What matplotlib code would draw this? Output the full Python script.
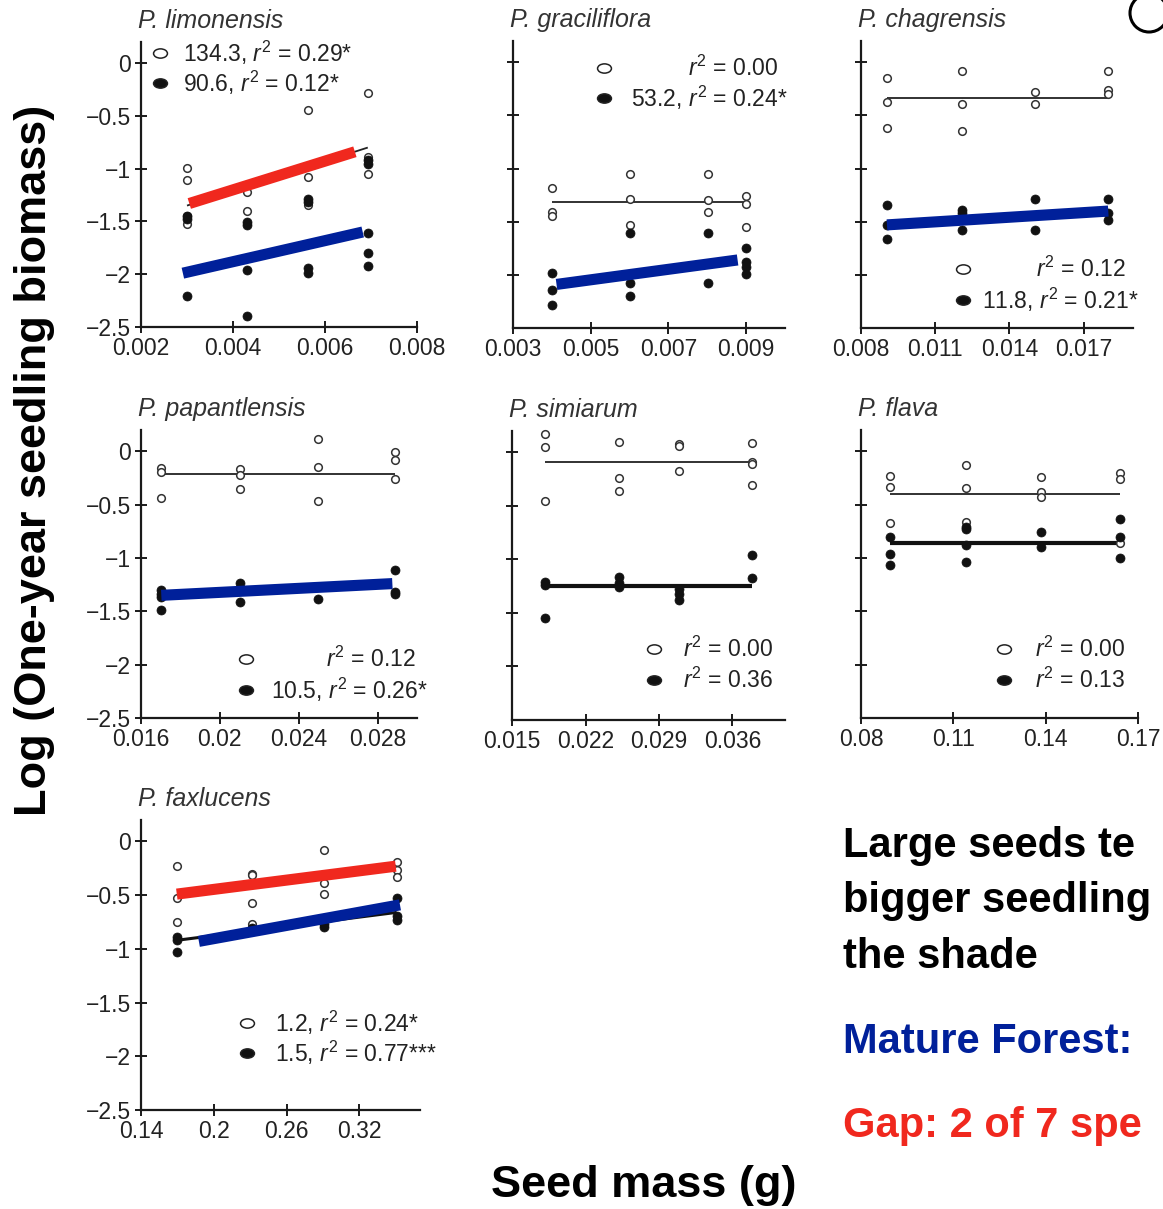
import matplotlib
matplotlib.use('Agg')
import matplotlib.pyplot as plt
from matplotlib.path import Path
from matplotlib.transforms import Affine2D
from matplotlib.patches import Circle

plt.rcParams['font.family'] = ['Liberation Sans', 'DejaVu Sans']
plt.rcParams['mathtext.fontset'] = 'custom'
plt.rcParams['mathtext.rm'] = 'Liberation Sans'
plt.rcParams['mathtext.it'] = 'Liberation Sans:italic'

W, H = 1163, 1209
RED = '#f0281e'
BLUE = '#00209a'

# ---------------- data ----------------
# P. limonensis
lim_gap_x = [0.003, 0.003, 0.003, 0.003, 0.0043, 0.0043, 0.00563, 0.00563, 0.00563, 0.00693, 0.00693, 0.00693]
lim_gap_y = [-0.99, -1.11, -1.45, -1.52, -1.22, -1.40, -0.44, -1.08, -1.34, -0.28, -0.89, -1.05]
lim_mat_x = [0.003, 0.003, 0.003, 0.0043, 0.0043, 0.0043, 0.0043, 0.00563, 0.00563, 0.00563, 0.00563,
             0.00693, 0.00693, 0.00693, 0.00693, 0.00693]
lim_mat_y = [-1.45, -1.48, -2.21, -1.51, -1.53, -1.96, -2.40, -1.29, -1.32, -1.94, -1.99,
             -0.92, -0.96, -1.61, -1.80, -1.92]
lim_gap_fit = ([0.003, 0.00693], [-1.35, -0.80])
lim_red = ([0.00305, 0.00665], [-1.33, -0.84])
lim_blue = ([0.00291, 0.00682], [-1.99, -1.60])

# P. graciliflora
gra_gap_x = [0.004, 0.004, 0.004, 0.00602, 0.00602, 0.00602, 0.00802, 0.00802, 0.00802, 0.009, 0.009, 0.009]
gra_gap_y = [-1.18, -1.41, -1.45, -1.05, -1.29, -1.53, -1.05, -1.30, -1.41, -1.26, -1.33, -1.55]
gra_mat_x = [0.004, 0.004, 0.004, 0.00602, 0.00602, 0.00602, 0.00802, 0.00802, 0.009, 0.009, 0.009, 0.009]
gra_mat_y = [-1.98, -2.14, -2.28, -1.61, -2.08, -2.20, -1.61, -2.08, -1.75, -1.88, -1.93, -1.99]
gra_gap_fit = ([0.004, 0.009], [-1.31, -1.31])
gra_blue = ([0.00412, 0.00878], [-2.09, -1.86])

# P. chagrensis
cha_gap_x = [0.00905, 0.00905, 0.00905, 0.01208, 0.01208, 0.01208, 0.01504, 0.01504, 0.018, 0.018, 0.018]
cha_gap_y = [-0.15, -0.37, -0.62, -0.08, -0.39, -0.65, -0.28, -0.39, -0.08, -0.26, -0.30]
cha_mat_x = [0.00905, 0.00905, 0.00905, 0.01208, 0.01208, 0.01208, 0.01504, 0.01504, 0.018, 0.018, 0.018]
cha_mat_y = [-1.34, -1.53, -1.66, -1.39, -1.42, -1.58, -1.29, -1.58, -1.29, -1.42, -1.48]
cha_gap_fit = ([0.00905, 0.018], [-0.34, -0.34])
cha_blue = ([0.00905, 0.018], [-1.53, -1.40])

# P. papantlensis
pap_gap_x = [0.01703, 0.01703, 0.01703, 0.02101, 0.02101, 0.02101, 0.025, 0.025, 0.025, 0.02887, 0.02887, 0.02887]
pap_gap_y = [-0.16, -0.19, -0.44, -0.17, -0.22, -0.35, 0.12, -0.15, -0.47, -0.01, -0.08, -0.26]
pap_mat_x = [0.01703, 0.01703, 0.01703, 0.01703, 0.02101, 0.02101, 0.02101, 0.025, 0.02887, 0.02887, 0.02887]
pap_mat_y = [-1.30, -1.34, -1.37, -1.49, -1.23, -1.28, -1.41, -1.38, -1.11, -1.32, -1.34]
pap_gap_fit = ([0.01703, 0.02887], [-0.21, -0.21])
pap_blue = ([0.01703, 0.02875], [-1.35, -1.24])

# P. simiarum
sim_gap_x = [0.0181, 0.0181, 0.0181, 0.02523, 0.02523, 0.02523, 0.03087, 0.03087, 0.03087, 0.0379, 0.0379, 0.0379, 0.0379]
sim_gap_y = [0.17, 0.05, -0.45, 0.10, -0.24, -0.36, 0.08, 0.06, -0.17, 0.09, -0.09, -0.11, -0.30]
sim_mat_x = [0.0181, 0.0181, 0.0181, 0.02523, 0.02523, 0.02523, 0.03087, 0.03087, 0.03087, 0.0379, 0.0379]
sim_mat_y = [-1.21, -1.24, -1.55, -1.16, -1.22, -1.26, -1.28, -1.32, -1.38, -0.96, -1.17]
sim_gap_fit = ([0.0181, 0.0379], [-0.09, -0.09])
sim_mat_fit = ([0.0181, 0.0379], [-1.25, -1.25])

# P. flava
fla_gap_x = [0.0895, 0.0895, 0.0895, 0.114, 0.114, 0.114, 0.1386, 0.1386, 0.1386, 0.164, 0.164, 0.164]
fla_gap_y = [-0.23, -0.33, -0.67, -0.13, -0.34, -0.66, -0.24, -0.38, -0.43, -0.20, -0.26, -0.86]
fla_mat_x = [0.0895, 0.0895, 0.0895, 0.114, 0.114, 0.114, 0.114, 0.1386, 0.1386, 0.164, 0.164, 0.164]
fla_mat_y = [-0.80, -0.96, -1.07, -0.71, -0.73, -0.88, -1.04, -0.76, -0.90, -0.63, -0.80, -1.00]
fla_gap_fit = ([0.0895, 0.164], [-0.40, -0.40])
fla_mat_fit = ([0.0895, 0.164], [-0.86, -0.86])

# P. faxlucens
fax_gap_x = [0.1695, 0.1695, 0.1695, 0.2314, 0.2314, 0.2314, 0.2314, 0.2908, 0.2908, 0.2908, 0.3508, 0.3508, 0.3508]
fax_gap_y = [-0.23, -0.53, -0.75, -0.30, -0.31, -0.57, -0.77, -0.08, -0.39, -0.49, -0.19, -0.27, -0.33]
fax_mat_x = [0.1695, 0.1695, 0.1695, 0.2314, 0.2908, 0.2908, 0.3508, 0.3508, 0.3508]
fax_mat_y = [-0.89, -0.92, -1.03, -0.81, -0.77, -0.80, -0.53, -0.69, -0.73]
fax_mat_fit = ([0.1695, 0.3508], [-0.92, -0.66])
fax_red = ([0.1695, 0.35], [-0.49, -0.23])
fax_blue = ([0.1877, 0.3535], [-0.93, -0.59])

y_ticks = [0, -0.5, -1, -1.5, -2, -2.5]
y_ticklabels = ['0', '\u22120.5', '\u22121', '\u22121.5', '\u22122', '\u22122.5']

# visible part of the slide text (cut by the slide edge)
side_lines = ['Large seeds te', 'bigger seedling', 'the shade']
mature_line = 'Mature Forest:'
gap_line = 'Gap: 2 of 7 spe'

# ---------------- layout helpers ----------------
fig = plt.figure(figsize=(W / 100, H / 100), dpi=100)


def fx(x):
    return x / W


def fy(y):
    return 1 - y / H


ell = Path.unit_circle().transformed(Affine2D().scale(1.5, 1.0))


def panel(box, title, xlim, xticks, xlabels, ylabels):
    left, bottom, right, top = box
    ax = fig.add_axes([fx(left), fy(bottom), (right - left) / W, (bottom - top) / H])
    ax.set_xlim(*xlim)
    ax.set_ylim(-2.5, 0.2)
    for s in ['top', 'right']:
        ax.spines[s].set_visible(False)
    for s in ['left', 'bottom']:
        ax.spines[s].set_linewidth(1.6)
        ax.spines[s].set_color('#1a1a1a')
    ax.set_xticks(xticks)
    ax.set_xticklabels(xlabels)
    if ylabels:
        ax.set_yticks(y_ticks)
        ax.set_yticklabels(y_ticklabels)
    else:
        ax.set_yticks(y_ticks[:-1])
        ax.set_yticklabels([])
    ax.tick_params(direction='inout', length=8, width=1.4, labelsize=16.5,
                   color='#1a1a1a', labelcolor='#222222', pad=3)
    ax.patch.set_alpha(0)
    fig.text(fx(left - 3), fy(top - 21), title, style='italic', fontsize=18,
             color='#333333', va='center', ha='left')
    return ax


def points(ax, gx, gy, mx, my):
    ax.plot(gx, gy, 'o', ms=5.5, mfc='white', mec='#333333', mew=1.1, zorder=3, clip_on=False)
    ax.plot(mx, my, 'o', ms=6.5, mfc='#111111', mec='#111111', mew=0.5, zorder=3, clip_on=False)


def fit(ax, line, color='#222222', lw=1.3, z=2):
    ax.plot(line[0], line[1], color=color, lw=lw, solid_capstyle='butt', zorder=z)


def legend(ax, box, entries):
    left, bottom, right, top = box
    for (mx, my, tx, ha, label, filled) in entries:
        ax.plot((mx - left) / (right - left), (bottom - my) / (bottom - top), marker=ell,
                ms=10, mfc='#111111' if filled else 'white', mec='#222222', mew=1.1,
                transform=ax.transAxes, clip_on=False)
        ax.text((tx - left) / (right - left), (bottom - my) / (bottom - top), label,
                transform=ax.transAxes, fontsize=16.5, color='#222222', ha=ha, va='center')


# ---------------- panels ----------------
b1 = (141, 327, 417, 42)
ax = panel(b1, 'P. limonensis', (0.002, 0.008), [0.002, 0.004, 0.006, 0.008],
           ['0.002', '0.004', '0.006', '0.008'], True)
points(ax, lim_gap_x, lim_gap_y, lim_mat_x, lim_mat_y)
fit(ax, lim_gap_fit)
fit(ax, lim_red, RED, 8, 4)
fit(ax, lim_blue, BLUE, 8, 4)
legend(ax, b1, [(160, 53, 183, 'left', '134.3, $r^2$ = 0.29*', False),
                (160, 83, 183, 'left', '90.6, $r^2$ = 0.12*', True)])

b2 = (513, 328, 785, 41)
ax = panel(b2, 'P. graciliflora', (0.003, 0.010), [0.003, 0.005, 0.007, 0.009],
           ['0.003', '0.005', '0.007', '0.009'], False)
points(ax, gra_gap_x, gra_gap_y, gra_mat_x, gra_mat_y)
fit(ax, gra_gap_fit)
fit(ax, gra_blue, BLUE, 8, 4)
legend(ax, b2, [(604, 68, 778, 'right', '$r^2$ = 0.00', False),
                (604, 98, 788, 'right', '53.2, $r^2$ = 0.24*', True)])

b3 = (861, 328, 1133, 41)
ax = panel(b3, 'P. chagrensis', (0.008, 0.019), [0.008, 0.011, 0.014, 0.017],
           ['0.008', '0.011', '0.014', '0.017'], False)
points(ax, cha_gap_x, cha_gap_y, cha_mat_x, cha_mat_y)
fit(ax, cha_gap_fit)
fit(ax, cha_blue, BLUE, 8, 4)
legend(ax, b3, [(963, 269, 1126, 'right', '$r^2$ = 0.12', False),
                (963, 300, 1139, 'right', '11.8, $r^2$ = 0.21*', True)])

b4 = (141, 718, 417, 430)
ax = panel(b4, 'P. papantlensis', (0.016, 0.030), [0.016, 0.02, 0.024, 0.028],
           ['0.016', '0.02', '0.024', '0.028'], True)
points(ax, pap_gap_x, pap_gap_y, pap_mat_x, pap_mat_y)
fit(ax, pap_gap_fit)
fit(ax, pap_blue, BLUE, 8, 4)
legend(ax, b4, [(246, 659, 416, 'right', '$r^2$ = 0.12', False),
                (246, 690, 428, 'right', '10.5, $r^2$ = 0.26*', True)])

b5 = (512, 720, 785, 431)
ax = panel(b5, 'P. simiarum', (0.015, 0.041), [0.015, 0.022, 0.029, 0.036],
           ['0.015', '0.022', '0.029', '0.036'], False)
points(ax, sim_gap_x, sim_gap_y, sim_mat_x, sim_mat_y)
fit(ax, sim_gap_fit)
fit(ax, sim_mat_fit, '#111111', 3)
legend(ax, b5, [(654, 649, 683, 'left', '$r^2$ = 0.00', False),
                (654, 680, 683, 'left', '$r^2$ = 0.36', True)])

b6 = (861, 718, 1138, 430)
ax = panel(b6, 'P. flava', (0.08, 0.17), [0.08, 0.11, 0.14, 0.17],
           ['0.08', '0.11', '0.14', '0.17'], False)
points(ax, fla_gap_x, fla_gap_y, fla_mat_x, fla_mat_y)
fit(ax, fla_gap_fit)
fit(ax, fla_mat_fit, '#111111', 3)
legend(ax, b6, [(1004, 649, 1035, 'left', '$r^2$ = 0.00', False),
                (1004, 680, 1035, 'left', '$r^2$ = 0.13', True)])

b7 = (141, 1110, 420, 820)
ax = panel(b7, 'P. faxlucens', (0.14, 0.37), [0.14, 0.2, 0.26, 0.32],
           ['0.14', '0.2', '0.26', '0.32'], True)
points(ax, fax_gap_x, fax_gap_y, fax_mat_x, fax_mat_y)
fit(ax, fax_mat_fit, '#111111', 2.2)
fit(ax, fax_red, RED, 8, 4)
fit(ax, fax_blue, BLUE, 8, 4)
legend(ax, b7, [(247, 1023, 275, 'left', '1.2, $r^2$ = 0.24*', False),
                (247, 1053, 275, 'left', '1.5, $r^2$ = 0.77***', True)])

# ---------------- slide text ----------------
fig.text(fx(35), fy(460), 'Log (One-year seedling biomass)', rotation=90,
         fontsize=32.5, fontweight='bold', ha='center', va='center')
fig.text(fx(644), fy(1185), 'Seed mass (g)', fontsize=32.5, fontweight='bold',
         ha='center', va='center')

for line, base in zip(side_lines, [857, 912, 968]):
    fig.text(fx(843), fy(base), line, fontsize=30, fontweight='bold', va='baseline')
fig.text(fx(843), fy(1053), mature_line, fontsize=30, fontweight='bold', color=BLUE,
         va='baseline')
fig.text(fx(843), fy(1137), gap_line, fontsize=30, fontweight='bold', color=RED,
         va='baseline')

fig.patches.append(Circle((11.49, (H - 13) / 100), 0.19, transform=fig.dpi_scale_trans,
                          fill=False, lw=2.2, ec='black'))

fig.savefig('out.png', dpi=100)
